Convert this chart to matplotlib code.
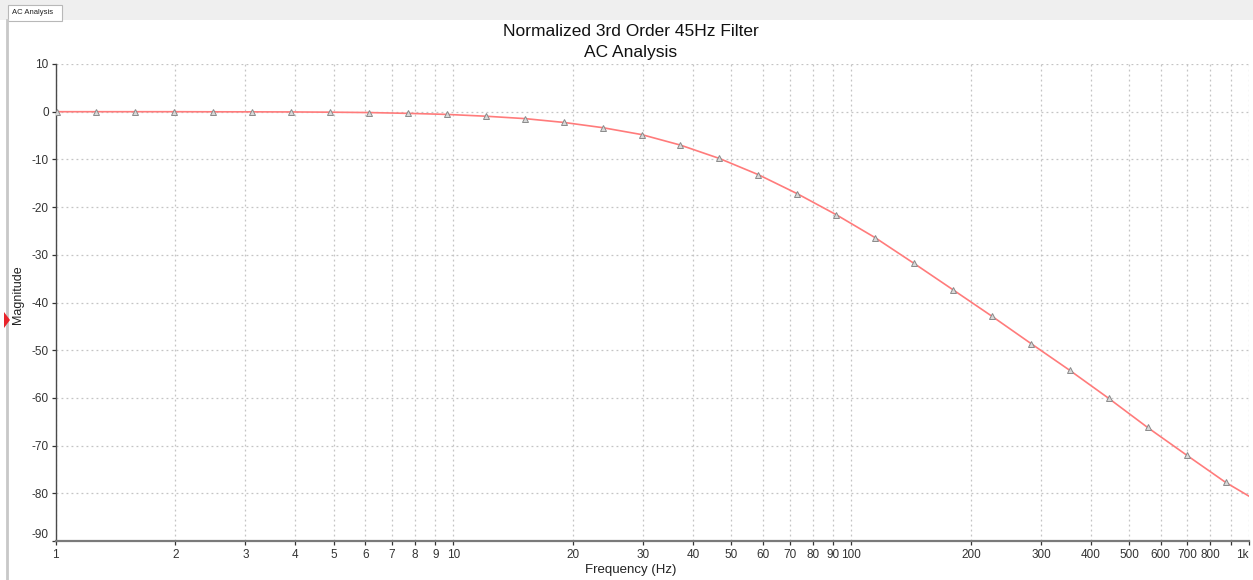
import numpy as np
import matplotlib
matplotlib.use('Agg')
import matplotlib.pyplot as plt
from matplotlib.patches import Rectangle, Polygon
from matplotlib.lines import Line2D

plt.rcParams['font.family'] = ['Liberation Sans', 'DejaVu Sans']

freq = [1.008, 1.26, 1.58, 1.98, 2.49, 3.12, 3.90, 4.89, 6.13, 7.69,
        9.64, 12.08, 15.13, 18.95, 23.74, 29.73, 37.2, 46.6, 58.4, 73.2,
        91.7, 114.8, 143.8, 180, 226, 283, 354, 444, 556, 697, 873, 1000]
mag = [0, 0, 0, 0, -0.02, -0.03, -0.05, -0.1, -0.18, -0.35,
       -0.57, -0.95, -1.45, -2.25, -3.35, -4.8, -7.0, -9.8, -13.2, -17.2,
       -21.6, -26.4, -31.8, -37.3, -42.9, -48.6, -54.2, -60.1, -66.2, -72.0, -77.7, -80.6]

xticks = [1, 2, 3, 4, 5, 6, 7, 8, 9, 10, 20, 30, 40, 50, 60, 70, 80, 90,
          100, 200, 300, 400, 500, 600, 700, 800, 900, 1000]
xlabels = ['1', '2', '3', '4', '5', '6', '7', '8', '9', '10', '20', '30', '40', '50',
           '60', '70', '80', '90', '100', '200', '300', '400', '500', '600', '700',
           '800', '', '1k']
yticks = [10, 0, -10, -20, -30, -40, -50, -60, -70, -80, -90]

W, H = 1253, 580
fig = plt.figure(figsize=(W / 100, H / 100), dpi=100)
fig.patch.set_facecolor('white')

# window chrome: tab strip, tab, left frame, cursor marker
fig.patches.append(Rectangle((0, 1 - 20 / H), 1, 20 / H, transform=fig.transFigure,
                             facecolor='#efefef', edgecolor='none', zorder=0))
fig.patches.append(Rectangle((8 / W, 1 - 21 / H), 54 / W, 16 / H, transform=fig.transFigure,
                             facecolor='white', edgecolor='#b8b8b8', lw=0.8, zorder=1))
fig.text(12 / W, 1 - 13 / H, 'AC Analysis', fontsize=5.5, va='center', ha='left', color='#222222')
fig.lines.append(Line2D([7 / W, 7 / W], [0, 1 - 20 / H], transform=fig.transFigure,
                        color='#c8c8c8', lw=2))
fig.patches.append(Polygon([(4 / W, 1 - 312 / H), (10 / W, 1 - 320 / H), (4 / W, 1 - 328 / H)],
                           closed=True, transform=fig.transFigure, facecolor='#e8232a',
                           edgecolor='none', zorder=3))

ax = fig.add_axes([55.7 / W, 1 - 541 / H, (1249 - 55.7) / W, (541 - 64) / H])
ax.set_xscale('log')
ax.set_xlim(1, 1000)
ax.set_ylim(-90, 10)

ax.plot(freq, mag, color='#ff7b7b', lw=1.2, zorder=3)
ax.plot(freq[:-1], mag[:-1], ls='none', marker='^', ms=4, mfc='#d9d9d9',
        mec='#8a8a8a', mew=0.7, zorder=4)

ax.set_xticks(xticks)
ax.set_xticklabels(xlabels)
ax.xaxis.set_minor_locator(matplotlib.ticker.NullLocator())
for lab in ax.get_xticklabels():
    if lab.get_text() == '1k':
        lab.set_ha('right')
ax.set_yticks(yticks)
ax.set_yticklabels([str(v) for v in yticks])
for lab in ax.get_yticklabels():
    if lab.get_text() == '-90':
        lab.set_va('bottom')

ax.grid(True, which='major', ls=(0, (1.5, 2.5)), color='#c4c4c4', lw=0.9)
ax.tick_params(axis='both', labelsize=8.5, colors='#333333', length=3, width=0.9, pad=2)
ax.tick_params(axis='x', pad=3)

for s in ['top', 'right']:
    ax.spines[s].set_visible(False)
ax.spines['left'].set_color('#4a4a4a')
ax.spines['bottom'].set_color('#7a7a7a')
ax.spines['left'].set_linewidth(1.0)
ax.spines['bottom'].set_linewidth(1.6)

fig.text(631 / W, 1 - 32 / H, 'Normalized 3rd Order 45Hz Filter', ha='center', va='center',
         fontsize=12.5, color='#111111')
fig.text(631 / W, 1 - 52 / H, 'AC Analysis', ha='center', va='center',
         fontsize=12.5, color='#111111')
fig.text(631 / W, 1 - 570 / H, 'Frequency (Hz)', ha='center', va='center',
         fontsize=9.5, color='#222222')
fig.text(18 / W, 1 - 295 / H, 'Magnitude', ha='center', va='center', rotation=90,
         fontsize=9, color='#222222')

fig.savefig('out.png', dpi=100)
